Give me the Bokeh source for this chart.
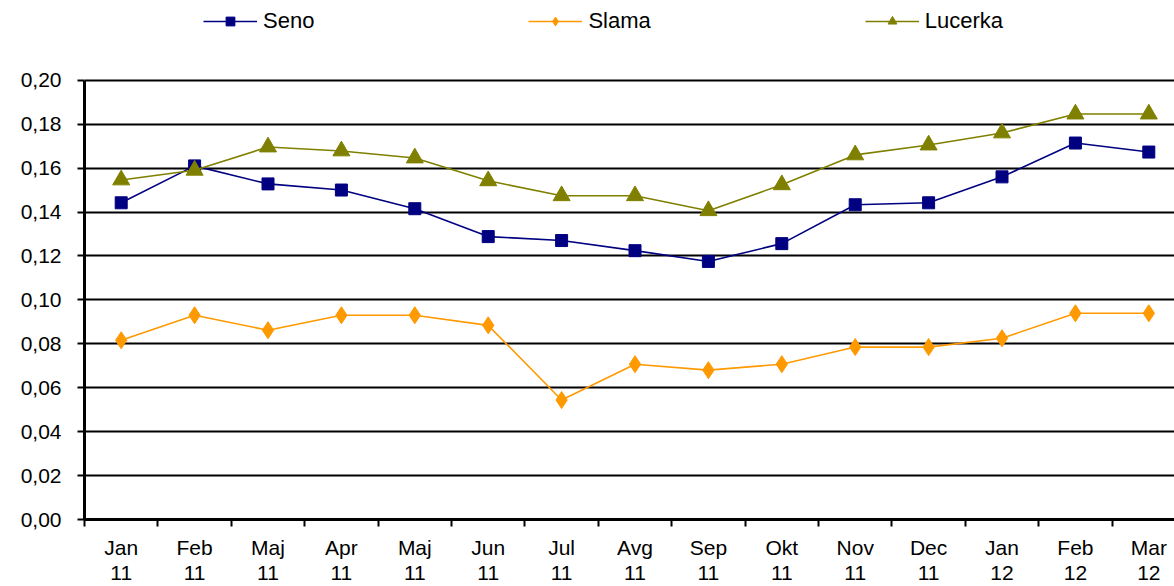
from bokeh.plotting import figure
from bokeh.models import FixedTicker, Legend, LegendItem, Range1d
from bokeh.embed import file_html
from bokeh.resources import INLINE

months = ["Jan\n11", "Feb\n11", "Maj\n11", "Apr\n11", "Maj\n11", "Jun\n11", "Jul\n11", "Avg\n11",
          "Sep\n11", "Okt\n11", "Nov\n11", "Dec\n11", "Jan\n12", "Feb\n12", "Mar\n12"]
seno = [0.1442, 0.161, 0.1528, 0.150, 0.1415, 0.1288, 0.127, 0.1224, 0.1175, 0.1256,
        0.1433, 0.1442, 0.156, 0.1714, 0.1673]
slama = [0.0816, 0.093, 0.0862, 0.093, 0.093, 0.0884, 0.0544, 0.0707, 0.068, 0.0707,
         0.0785, 0.0785, 0.0825, 0.0939, 0.0939]
lucerka = [0.1546, 0.159, 0.1696, 0.1678, 0.1646, 0.1542, 0.1474, 0.1474, 0.1406, 0.1524,
           0.166, 0.1705, 0.176, 0.1846, 0.1846]
y_ticks = [0.0, 0.02, 0.04, 0.06, 0.08, 0.10, 0.12, 0.14, 0.16, 0.18, 0.20]

xs = [i + 0.5 for i in range(len(months))]
FONT = "Liberation Sans"

p = figure(width=1174, height=586, output_backend="svg", toolbar_location=None,
           x_range=Range1d(0, 14.85), y_range=Range1d(0, 0.2363),
           min_border_left=84, min_border_right=0, min_border_top=0, min_border_bottom=0)
p.outline_line_color = None
p.background_fill_color = "white"

# axes
p.xaxis.ticker = FixedTicker(ticks=xs, minor_ticks=list(range(0, 16)))
p.xaxis.major_label_overrides = {x: m for x, m in zip(xs, months)}
p.xaxis.major_tick_out = 0
p.xaxis.major_tick_in = 0
p.xaxis.minor_tick_out = 7
p.xaxis.minor_tick_in = 0
p.xaxis.minor_tick_line_width = 2
p.xaxis.minor_tick_line_color = "black"
p.xaxis.axis_line_width = 3
p.xaxis.axis_line_color = "black"
p.xaxis.major_label_text_font = FONT
p.xaxis.major_label_text_font_size = "21px"
p.xaxis.major_label_text_color = "black"
p.xaxis.major_label_standoff = 9
p.xaxis.major_label_text_line_height = 1.1

p.yaxis.ticker = FixedTicker(ticks=y_ticks)
p.yaxis.bounds = (0, 0.20)
p.yaxis.major_label_overrides = {t: f"{t:.2f}".replace(".", ",") for t in y_ticks}
p.yaxis.major_tick_out = 7
p.yaxis.major_tick_in = 0
p.yaxis.major_tick_line_width = 2
p.yaxis.major_tick_line_color = "black"
p.yaxis.minor_tick_line_color = None
p.yaxis.axis_line_width = 3
p.yaxis.axis_line_color = "black"
p.yaxis.major_label_text_font = FONT
p.yaxis.major_label_text_font_size = "21px"
p.yaxis.major_label_text_color = "black"
p.yaxis.major_label_standoff = 16

p.xgrid.grid_line_color = None
p.ygrid.ticker = FixedTicker(ticks=y_ticks)
p.ygrid.grid_line_color = "black"
p.ygrid.grid_line_width = 2

# series
c_seno, c_slama, c_luc = "#000080", "#FF9900", "#808000"
l1 = p.line(xs, seno, line_color=c_seno, line_width=1.6)
m1 = p.scatter(xs, seno, marker="square", size=12, fill_color=c_seno, line_color=c_seno)
l2 = p.line(xs, slama, line_color=c_slama, line_width=1.6)
m2 = p.scatter(xs, slama, marker="diamond", size=17, fill_color=c_slama, line_color=c_slama)
l3 = p.line(xs, lucerka, line_color=c_luc, line_width=1.6)
m3 = p.scatter(xs, lucerka, marker="triangle", size=17, fill_color=c_luc, line_color=c_luc)

legend = Legend(items=[LegendItem(label="Seno", renderers=[l1, m1]),
                       LegendItem(label="Slama", renderers=[l2, m2]),
                       LegendItem(label="Lucerka", renderers=[l3, m3])],
                location=(119, 485), orientation="horizontal",
                glyph_width=54, glyph_height=22, spacing=214, label_standoff=6,
                padding=0, margin=0, border_line_color=None, background_fill_alpha=0,
                label_text_font=FONT, label_text_font_size="22px", label_text_color="black")
p.add_layout(legend, "center")

open("out.html", "w").write(file_html(p, INLINE))
